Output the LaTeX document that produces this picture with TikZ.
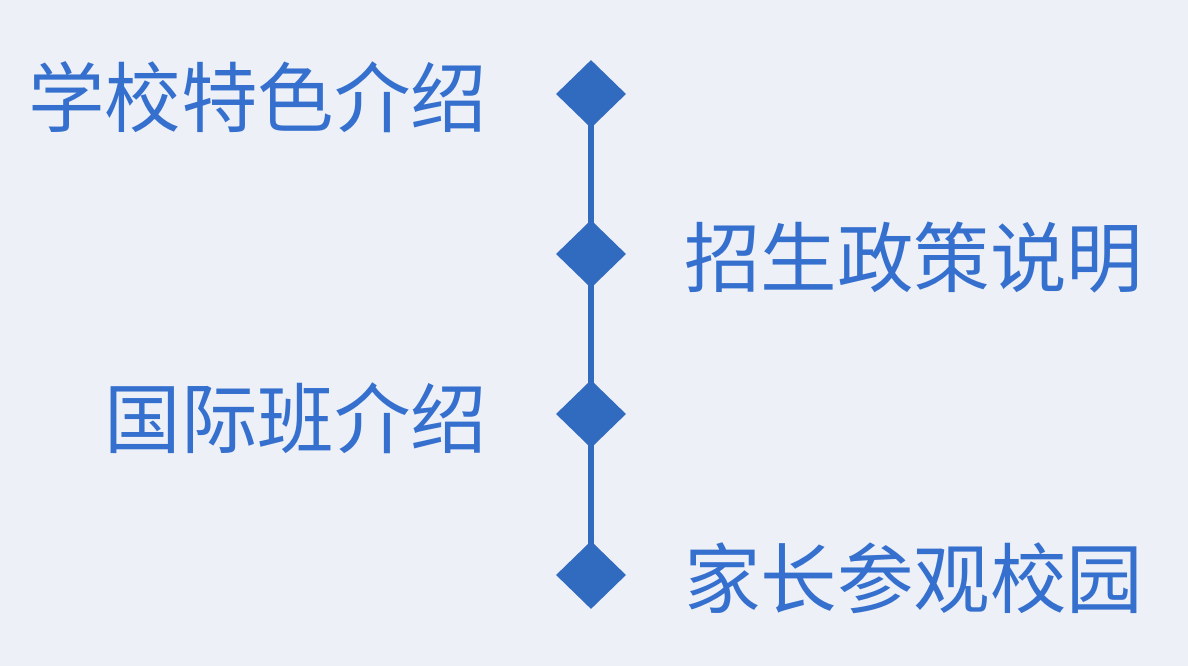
\documentclass[tikz,border=0pt]{standalone}
\usepackage{fontspec}
\newfontfamily\cjk{Noto Sans CJK SC}
\usetikzlibrary{shapes.geometric}
\definecolor{bgc}{HTML}{EEF0F7}
\definecolor{txtc}{HTML}{3570CF}
\definecolor{dmc}{HTML}{306BC0}
\tikzset{
  dia/.style={diamond, fill=dmc, minimum width=70pt, minimum height=68pt, inner sep=0pt, aspect=1},
  lbl/.style={text=txtc, font=\cjk\fontsize{76.5pt}{80pt}\selectfont, inner sep=0pt},
  conn/.style={draw=dmc, line width=6pt, shorten <=-10pt, shorten >=-10pt}
}
\begin{document}
\begin{tikzpicture}[x=1pt,y=-1pt]
\fill[bgc] (0,0) rectangle (1188,666);
\useasboundingbox (0,0) rectangle (1188,666);
\node[dia] (d1) at (591,94) {};
\node[dia] (d2) at (591,254) {};
\node[dia] (d3) at (591,414) {};
\node[dia] (d4) at (591,575) {};
\draw[conn] (d1) -- (d2);
\draw[conn] (d2) -- (d3);
\draw[conn] (d3) -- (d4);
\node[lbl, anchor=east] (t1) at (487.5,97) {学校特色介绍};
\node[lbl, anchor=west] (t2) at (684,258) {招生政策说明};
\node[lbl, anchor=east] (t3) at (487.5,418) {国际班介绍};
\node[lbl, anchor=west] (t4) at (684,578) {家长参观校园};
\end{tikzpicture}
\end{document}
